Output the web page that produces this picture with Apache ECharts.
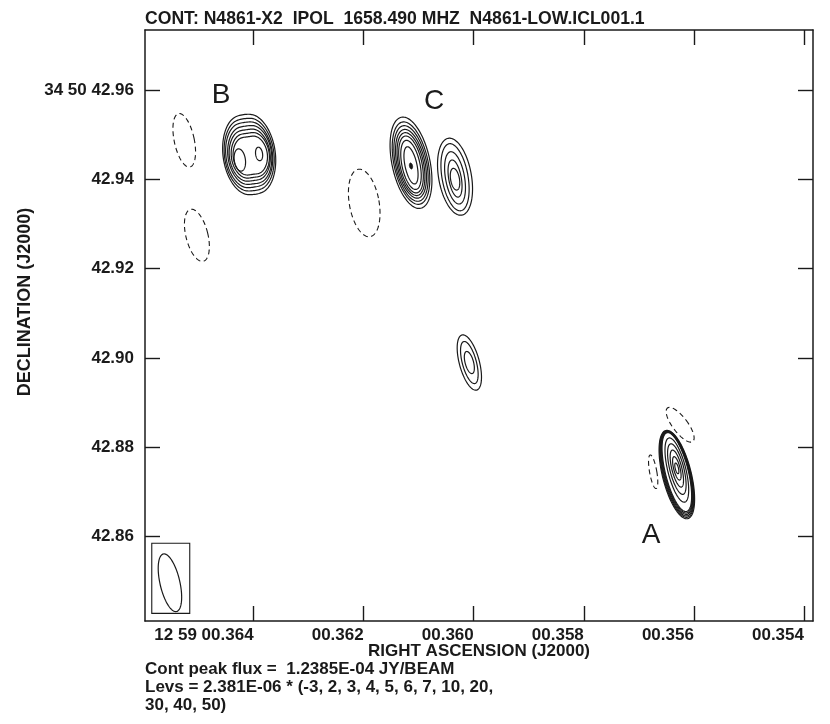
<!DOCTYPE html>
<html>
<head>
<meta charset="utf-8">
<script src="https://cdn.jsdelivr.net/npm/echarts@6/dist/echarts.min.js"></script>
<style>
  html, body { margin: 0; background: #fff; }
  #chart { width: 830px; height: 724px; }
</style>
</head>
<body>
<div id="chart"></div>
<script>
// RA in seconds of time past 12h59m00s, Dec in arcsec past +34d50m
const raTicks = [0.364, 0.362, 0.360, 0.358, 0.356, 0.354]
const decTicks = [42.86, 42.88, 42.90, 42.92, 42.94, 42.96]
const raRange = [0.353836, 0.365973]
const decRange = [42.8411, 42.9734]

const peakFlux = '1.2385E-04'
const rms = '2.381E-06'
const levels = [-3, 2, 3, 4, 5, 6, 7, 10, 20, 30, 40, 50]

// contour rows: [ra, dec, semi-major (mas), semi-minor (mas), PA (deg), waist]
const sourceB = [
  [0.36408, 42.94554, 9.58, 5.85, 8, 0.06],
  [0.36408, 42.94550, 8.73, 5.53, 8, 0.07],
  [0.36408, 42.94547, 7.95, 5.21, 8, 0.08],
  [0.36407, 42.94543, 7.17, 4.89, 8, 0.09],
  [0.36407, 42.94538, 6.38, 4.57, 8, 0.10],
  [0.36406, 42.94534, 5.60, 4.25, 8, 0.11],
  [0.36406, 42.94529, 4.81, 3.83, 8, 0.12],
  [0.36425, 42.94430, 2.51, 1.25, 8, 0],
  [0.36390, 42.94565, 1.52, 0.78, 8, 0]
]
const sourceC = [
  [0.36114, 42.94368, 10.41, 4.25, 12, 0],
  [0.36114, 42.94360, 9.40, 3.81, 12, 0],
  [0.36114, 42.94352, 8.62, 3.47, 12, 0],
  [0.36114, 42.94345, 7.84, 3.13, 12, 0],
  [0.36114, 42.94338, 7.17, 2.80, 12, 0],
  [0.36114, 42.94330, 6.49, 2.46, 12, 0],
  [0.36114, 42.94320, 5.60, 2.02, 12, 0],
  [0.36114, 42.94310, 4.25, 1.34, 12, 0]
]
const sourceC2 = [
  [0.36034, 42.94056, 8.73, 3.67, 10, 0],
  [0.36034, 42.94044, 7.61, 2.91, 10, 0],
  [0.36034, 42.94030, 5.93, 2.13, 10, 0],
  [0.36034, 42.94015, 4.21, 1.41, 10, 0],
  [0.36034, 42.94000, 2.46, 0.99, 10, 0]
]
const sourceMid = [
  [0.36008, 42.89896, 6.38, 2.24, 15, 0],
  [0.36008, 42.89896, 4.86, 1.57, 15, 0],
  [0.36008, 42.89896, 2.55, 0.94, 15, 0]
]
const sourceA = [
  [0.35631, 42.87388, 10.17, 3.22, 14, 0],
  [0.35631, 42.87399, 9.95, 3.08, 14, 0],
  [0.35631, 42.87410, 9.74, 2.95, 14, 0],
  [0.35631, 42.87422, 9.52, 2.82, 14, 0],
  [0.35631, 42.87433, 9.31, 2.69, 14, 0],
  [0.35631, 42.87444, 9.09, 2.56, 14, 0],
  [0.35631, 42.87489, 7.39, 2.02, 14, 0],
  [0.35631, 42.87511, 5.82, 1.57, 14, 0],
  [0.35631, 42.87522, 4.26, 1.12, 14, 0],
  [0.35631, 42.87527, 2.69, 0.72, 14, 0],
  [0.35631, 42.87527, 1.23, 0.36, 14, 0]
]
const peakDots = [
  [0.36114, 42.94296, 0.67, 0.34, 12, 0]
]
// -3 sigma contours
const negContours = [
  [0.36526, 42.94871, 6.11, 2.24, 12, 0],
  [0.36503, 42.92744, 5.98, 2.46, 14, 0],
  [0.36199, 42.93468, 7.66, 3.33, 10, 0],
  [0.35625, 42.88503, 4.70, 1.68, 37, 0],
  [0.35674, 42.87451, 3.81, 0.81, 10, 0]
]
const beam = [[0.36552, 42.84966, 6.61, 2.22, 13, 0]]
const beamBox = [[0.36585, 42.8585, 0.36516, 42.8428]]
const sourceLabels = [
  ['A', 0.35678, 42.86034],
  ['B', 0.364592, 42.95886],
  ['C', 0.360722, 42.95740]
]

const font = "'Liberation Sans', Arial, sans-serif"
const ink = '#1a1a1a'
const dims = ['ra', 'dec', 'maj', 'min', 'pa', 'waist']

function ellipseItem(style) {
  return function (params, api) {
    const c = api.coord([api.value(0), api.value(1)])
    const perMas = Math.abs(api.size([0, 0.001])[1])
    const b = api.value(2) * perMas
    const a = api.value(3) * perMas
    const pa = api.value(4) * Math.PI / 180
    const waist = api.value(5) || 0
    const pts = []
    const n = 120
    for (let i = 0; i < n; i++) {
      const t = i / n * Math.PI * 2
      const u = a * Math.cos(t)
      let v = b * Math.sin(t)
      if (waist) v *= 1 - waist * Math.exp(-Math.pow(u / (0.45 * a), 2))
      pts.push([
        c[0] + u * Math.cos(pa) + v * Math.sin(pa),
        c[1] - u * Math.sin(pa) + v * Math.cos(pa)
      ])
    }
    return { type: 'polygon', shape: { points: pts }, style: style }
  }
}

function fmtRa(v) {
  const s = '00.' + v.toFixed(3).split('.')[1]
  return Math.abs(v - 0.364) < 1e-9 ? '12 59 ' + s : s
}
function fmtDec(v) {
  return Math.abs(v - 42.96) < 1e-9 ? '34 50 ' + v.toFixed(2) : v.toFixed(2)
}

const levText = levels.slice(0, 9).join(', ') + ',\n' + levels.slice(9).join(', ') + ')'

const axisText = { fontFamily: font, fontWeight: 'bold', fontSize: 17, color: ink }
const tickStyle = { inside: true, length: 15, lineStyle: { color: ink, width: 1.4 } }
const lineStyle = { lineStyle: { color: ink, width: 1.5 } }

const chart = echarts.init(document.getElementById('chart'))
chart.setOption({
  animation: false,
  backgroundColor: '#fff',
  title: [{
    text: 'CONT: N4861-X2  IPOL  1658.490 MHZ  N4861-LOW.ICL001.1',
    left: 145, top: 10, padding: 0,
    textStyle: Object.assign({}, axisText, { fontSize: 17.6 })
  }, {
    text: 'Cont peak flux =  ' + peakFlux + ' JY/BEAM\nLevs = ' + rms + ' * (' + levText,
    left: 145, top: 660, padding: 0,
    textStyle: Object.assign({ lineHeight: 18 }, axisText)
  }],
  graphic: [{
    type: 'text',
    x: 25, y: 302,
    rotation: Math.PI / 2,
    style: { text: 'DECLINATION (J2000)', textAlign: 'center', textVerticalAlign: 'middle',
      font: 'bold 18px ' + font, fill: ink }
  }],
  grid: { left: 145, right: 17, top: 30, bottom: 103 },
  xAxis: [{
    type: 'value', min: raRange[0], max: raRange[1], inverse: true,
    name: 'RIGHT ASCENSION (J2000)', nameLocation: 'middle', nameGap: 22,
    nameMoveOverlap: false,
    nameTextStyle: axisText,
    axisLine: lineStyle,
    axisTick: Object.assign({ customValues: raTicks }, tickStyle),
    axisLabel: Object.assign({ customValues: raTicks, formatter: fmtRa, align: 'right', margin: 6 }, axisText),
    splitLine: { show: false }
  }, {
    type: 'value', position: 'top', min: raRange[0], max: raRange[1], inverse: true,
    axisLine: lineStyle,
    axisTick: Object.assign({ customValues: raTicks }, tickStyle),
    axisLabel: { show: false },
    splitLine: { show: false }
  }],
  yAxis: [{
    type: 'value', min: decRange[0], max: decRange[1],
    axisLine: lineStyle,
    axisTick: Object.assign({ customValues: decTicks }, tickStyle),
    axisLabel: Object.assign({ customValues: decTicks, formatter: fmtDec, margin: 11 }, axisText),
    splitLine: { show: false }
  }, {
    type: 'value', position: 'right', min: decRange[0], max: decRange[1],
    axisLine: lineStyle,
    axisTick: Object.assign({ customValues: decTicks }, tickStyle),
    axisLabel: { show: false },
    splitLine: { show: false }
  }],
  series: [{
    name: 'Positive contours',
    type: 'custom', clip: false, dimensions: dims,
    renderItem: ellipseItem({ fill: 'none', stroke: ink, lineWidth: 1.2 }),
    data: [].concat(sourceB, sourceC, sourceC2, sourceMid, sourceA)
  }, {
    name: 'Peak',
    type: 'custom', clip: false, dimensions: dims,
    renderItem: ellipseItem({ fill: ink, stroke: ink, lineWidth: 1 }),
    data: peakDots
  }, {
    name: 'Negative contours',
    type: 'custom', clip: false, dimensions: dims,
    renderItem: ellipseItem({ fill: 'none', stroke: ink, lineWidth: 1.1, lineDash: [5, 3.5] }),
    data: negContours
  }, {
    name: 'Beam',
    type: 'custom', clip: false, dimensions: dims,
    renderItem: ellipseItem({ fill: 'none', stroke: ink, lineWidth: 1.2 }),
    data: beam
  }, {
    name: 'Beam box',
    type: 'custom', clip: false,
    renderItem: function (params, api) {
      const p1 = api.coord([api.value(0), api.value(1)])
      const p2 = api.coord([api.value(2), api.value(3)])
      return {
        type: 'rect',
        shape: { x: Math.min(p1[0], p2[0]), y: Math.min(p1[1], p2[1]),
          width: Math.abs(p2[0] - p1[0]), height: Math.abs(p2[1] - p1[1]) },
        style: { fill: 'none', stroke: ink, lineWidth: 1.1 }
      }
    },
    data: beamBox
  }, {
    name: 'Labels',
    type: 'custom', clip: false,
    renderItem: function (params, api) {
      const p = api.coord([api.value(1), api.value(2)])
      return {
        type: 'text', x: p[0], y: p[1],
        style: { text: sourceLabels[params.dataIndex][0], textAlign: 'center', textVerticalAlign: 'middle',
          font: '28px ' + font, fill: ink }
      }
    },
    data: sourceLabels
  }]
})
</script>
</body>
</html>
